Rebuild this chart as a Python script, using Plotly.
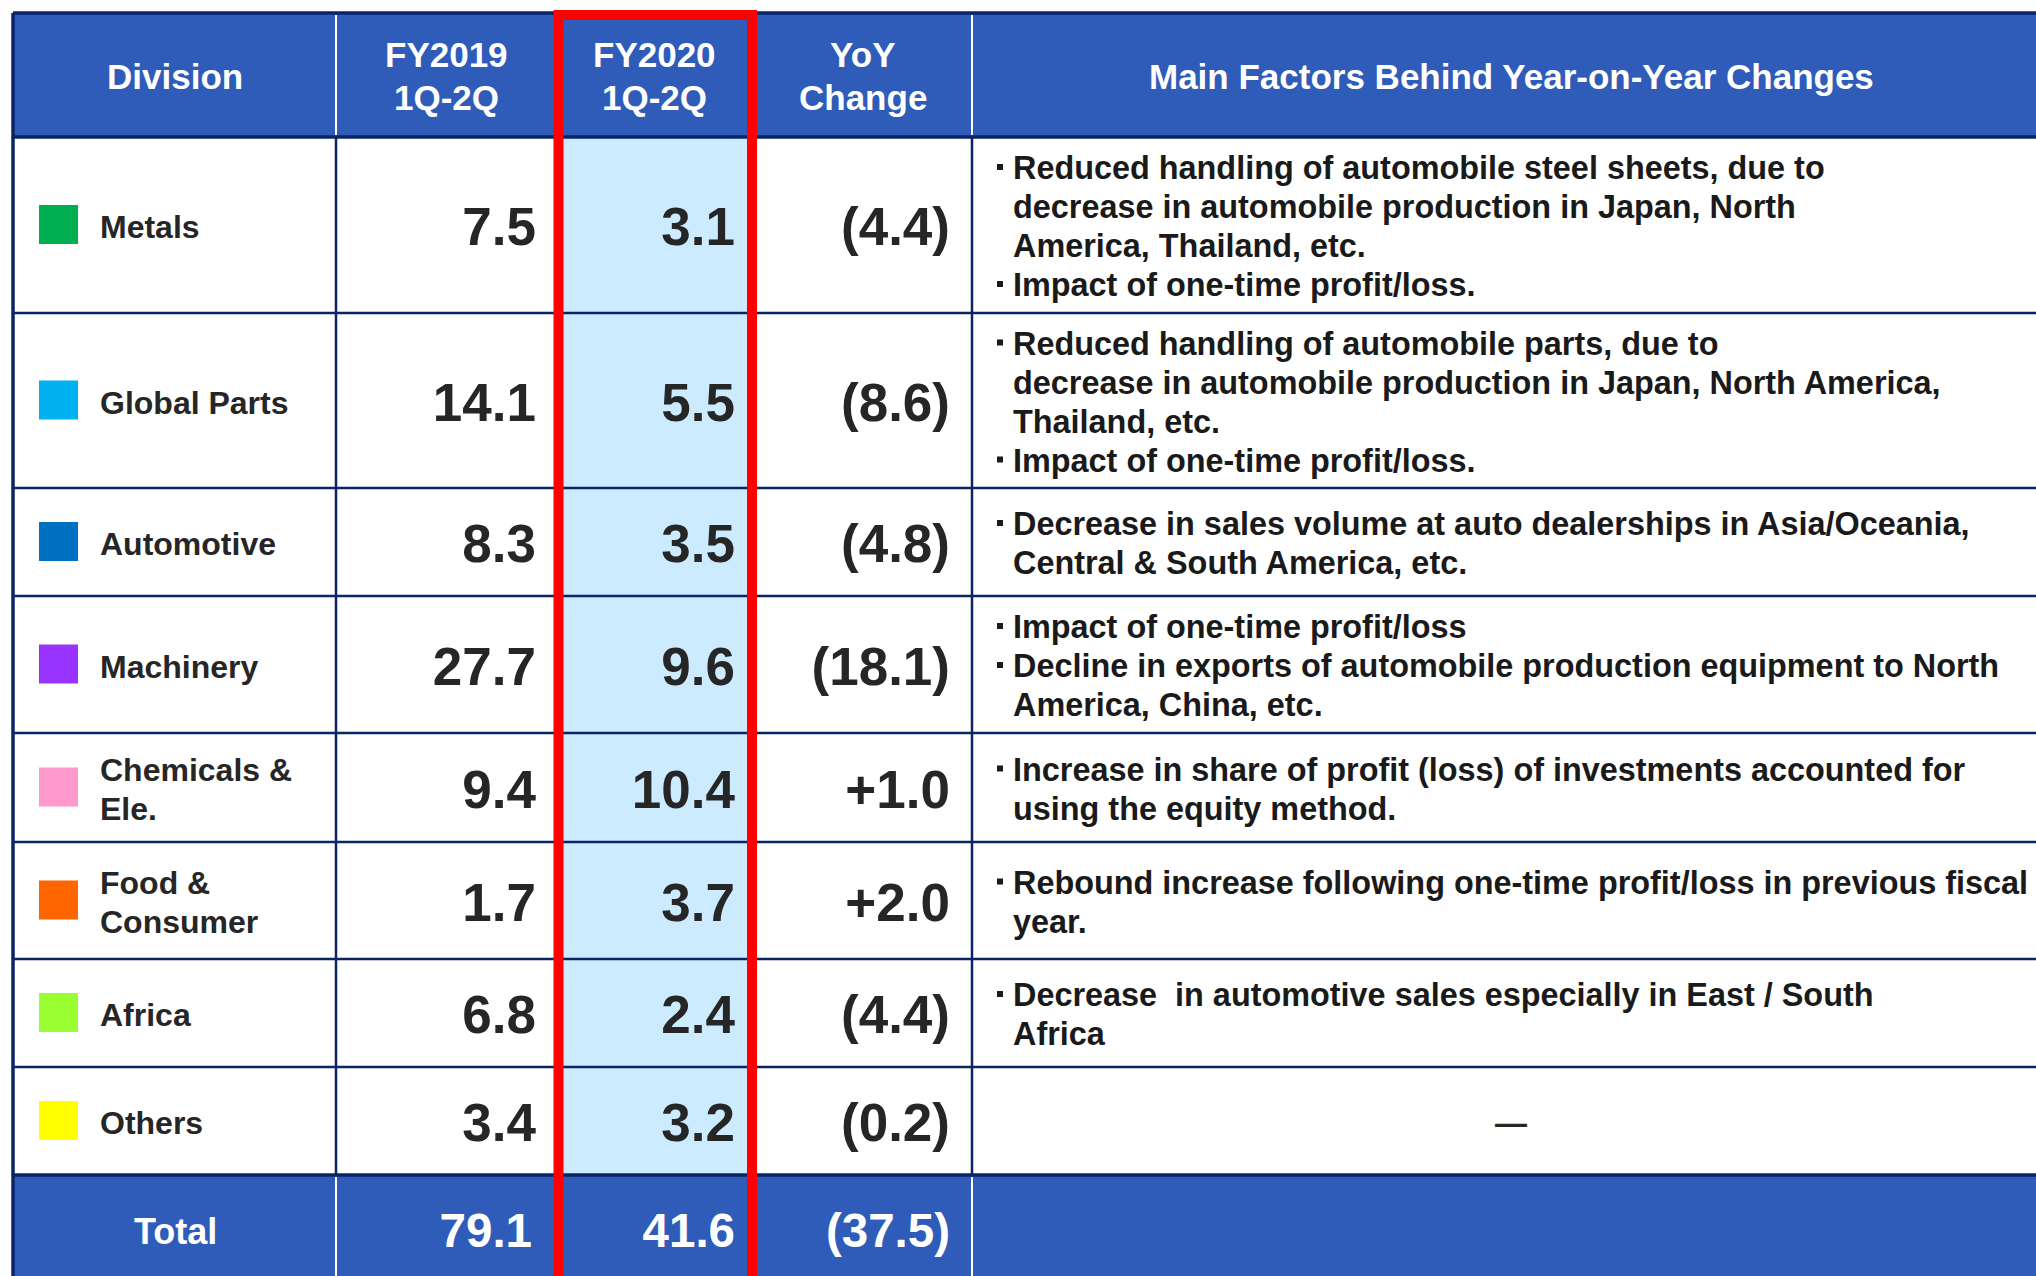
import plotly.graph_objects as go

# ---------------- data ----------------
headers = ["Division", "FY2019\n1Q-2Q", "FY2020\n1Q-2Q", "YoY\nChange",
           "Main Factors Behind Year-on-Year Changes"]
divisions = ["Metals", "Global Parts", "Automotive", "Machinery",
             "Chemicals &\nEle.", "Food &\nConsumer", "Africa", "Others"]
division_colors = ["#00B050", "#00B0F0", "#0070C0", "#9933FF",
                   "#FF99CC", "#FF6600", "#99FF33", "#FFFF00"]
fy2019 = [7.5, 14.1, 8.3, 27.7, 9.4, 1.7, 6.8, 3.4]
fy2020 = [3.1, 5.5, 3.5, 9.6, 10.4, 3.7, 2.4, 3.2]
yoy_change = [-4.4, -8.6, -4.8, -18.1, 1.0, 2.0, -4.4, -0.2]
total_label = "Total"
total_fy2019 = 79.1
total_fy2020 = 41.6
total_yoy = -37.5
factors = [
    [["Reduced handling of automobile steel sheets, due to",
      "decrease in automobile production in Japan, North",
      "America, Thailand, etc."],
     ["Impact of one-time profit/loss."]],
    [["Reduced handling of automobile parts, due to",
      "decrease in automobile production in Japan, North America,",
      "Thailand, etc."],
     ["Impact of one-time profit/loss."]],
    [["Decrease in sales volume at auto dealerships in Asia/Oceania,",
      "Central & South America, etc."]],
    [["Impact of one-time profit/loss"],
     ["Decline in exports of automobile production equipment to North",
      "America, China, etc."]],
    [["Increase in share of profit (loss) of investments accounted for",
      "using the equity method."]],
    [["Rebound increase following one-time profit/loss in previous fiscal",
      "year."]],
    [["Decrease  in automotive sales especially in East / South",
      "Africa"]],
    [],
]
no_factor_mark = "\u2014"

# ---------------- layout constants ----------------
W, H = 2036, 1276
COL = [13, 336, 556, 753, 972, 2050]
TOP = 13
ROW = [137, 313, 488, 596, 733, 842, 959, 1067, 1175, 1283]
FONT = "Liberation Sans, Arial, sans-serif"
HEAD_BLUE = "#2E5CB8"
LIGHT_BLUE = "#CCEBFF"
NAVY = "#0B2466"
TXT = "#262626"
RIGHT_PAD = [None, 536, 735, 950]


def fmt_val(v):
    return f"{v:.1f}"


def fmt_chg(v):
    return f"({abs(v):.1f})" if v < 0 else f"+{v:.1f}"


fig = go.Figure()
shapes = []
annotations = []


def rect(x0, x1, y0, y1, fill, layer="below"):
    shapes.append(dict(type="rect", xref="x", yref="y", x0=x0, x1=x1, y0=y0, y1=y1,
                       fillcolor=fill, line=dict(width=0), layer=layer))


def line(x0, y0, x1, y1, color, width, layer="below"):
    shapes.append(dict(type="line", xref="x", yref="y", x0=x0, y0=y0, x1=x1, y1=y1,
                       line=dict(color=color, width=width), layer=layer))


def add_lines(x, yc, text, spacing, size, color, xanchor="center"):
    parts = text.split("\n")
    n = len(parts)
    for i, p in enumerate(parts):
        y = yc + (i - (n - 1) / 2) * spacing
        annotations.append(dict(x=x, y=y, xref="x", yref="y", text=p, showarrow=False,
                                xanchor=xanchor, yanchor="middle", align="left",
                                font=dict(family=FONT, size=size, color=color, weight="bold")))


# fills
rect(COL[0], COL[-1], TOP, ROW[0], HEAD_BLUE)
rect(COL[2], COL[3], ROW[0], ROW[-2], LIGHT_BLUE)
rect(COL[0], COL[-1], ROW[-2], H + 20, HEAD_BLUE)

# grid
for y in ROW[1:-2]:
    line(COL[0], y, COL[-1], y, NAVY, 2.5)
line(COL[0], TOP, COL[-1], TOP, NAVY, 3.5)
line(COL[0], ROW[0], COL[-1], ROW[0], NAVY, 3.5)
line(COL[0], ROW[-2], COL[-1], ROW[-2], NAVY, 3.5)
for x in COL[1:5]:
    line(x, ROW[0], x, ROW[-2], NAVY, 2.5)
    line(x, TOP + 2, x, ROW[0] - 2, "white", 2)
    line(x, ROW[-2] + 2, x, H + 20, "white", 2)
line(COL[0], TOP, COL[0], H + 20, NAVY, 3.5)

# header texts
head_x = [(COL[i] + COL[i + 1]) / 2 for i in range(5)]
head_x[0] = 175
for i, h in enumerate(headers):
    add_lines(head_x[i], (TOP + ROW[0]) / 2 + 1, h, 43, 35, "white")

# division labels and squares
centers = [(ROW[i] + ROW[i + 1]) / 2 for i in range(len(divisions))]
for i, d in enumerate(divisions):
    yc = centers[i]
    rect(39, 78, yc - 20, yc + 19, division_colors[i])
    add_lines(98, yc + 2, d, 38.5, 32, TXT, xanchor="left")

# value columns as text traces
for k, (vals, fmt) in enumerate([(fy2019, fmt_val), (fy2020, fmt_val), (yoy_change, fmt_chg)]):
    fig.add_trace(go.Scatter(
        x=[RIGHT_PAD[k + 1]] * len(vals), y=[c + 7 for c in centers],
        mode="text", text=[fmt(v) for v in vals], textposition="middle left",
        textfont=dict(family=FONT, size=53, color=TXT, weight="bold"),
        hoverinfo="skip", showlegend=False))

# total row
tc = (ROW[-2] + ROW[-1]) / 2 + 2
add_lines(175, tc, total_label, 40, 36, "white")
fig.add_trace(go.Scatter(
    x=[532, 735, 950], y=[tc + 4] * 3, mode="text",
    text=[fmt_val(total_fy2019), fmt_val(total_fy2020), fmt_chg(total_yoy)],
    textposition="middle left",
    textfont=dict(family=FONT, size=47.5, color="white", weight="bold"),
    hoverinfo="skip", showlegend=False))

# factor texts with bullets
bx, by = [], []
for i, items in enumerate(factors):
    yc = centers[i] + 1.5
    if not items:
        add_lines((COL[4] + COL[5]) / 2, yc, no_factor_mark, 39, 32, TXT)
        continue
    flat = []
    for item in items:
        for j, ln in enumerate(item):
            flat.append((ln, j == 0))
    n = len(flat)
    for k, (ln, first) in enumerate(flat):
        y = yc + (k - (n - 1) / 2) * 39
        annotations.append(dict(x=1011, y=y, xref="x", yref="y", text=ln, showarrow=False,
                                xanchor="left", yanchor="middle",
                                font=dict(family=FONT, size=32.4, color="#1a1a1a", weight="bold")))
        if first:
            bx.append(1000)
            by.append(y - 1)
fig.add_trace(go.Scatter(x=bx, y=by, mode="markers",
                         marker=dict(symbol="square", size=6, color="#1a1a1a"),
                         hoverinfo="skip", showlegend=False))

# red highlight frame
shapes.append(dict(type="rect", xref="x", yref="y", x0=558.5, x1=752, y0=15, y1=H + 40,
                   line=dict(color="#FF0000", width=10), fillcolor="rgba(0,0,0,0)", layer="above"))

fig.update_layout(
    width=W, height=H, margin=dict(l=0, r=0, t=0, b=0),
    paper_bgcolor="white", plot_bgcolor="white",
    xaxis=dict(range=[0, W], visible=False, fixedrange=True),
    yaxis=dict(range=[H, 0], visible=False, fixedrange=True),
    shapes=shapes, annotations=annotations,
)
fig.write_html("out.html",
               config={"displayModeBar": False},
               post_script="document.body.style.margin='0';document.body.style.overflow='hidden';")
